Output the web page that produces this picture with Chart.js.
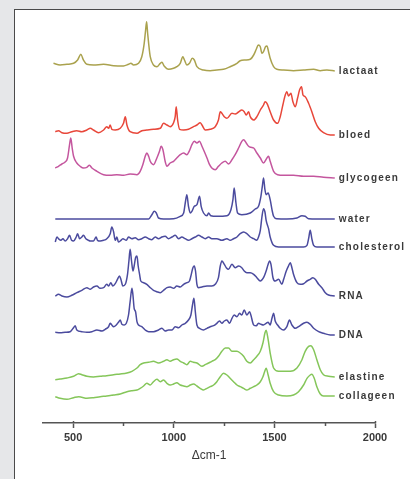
<!DOCTYPE html>
<html>
<head>
<meta charset="utf-8">
<script src="https://cdn.jsdelivr.net/npm/chart.js@4/dist/chart.umd.min.js"></script>
<style>
  html, body { margin: 0; padding: 0; background: #e6e7e9; width: 410px; height: 479px; overflow: hidden; }
  #panel { position: absolute; left: 14px; top: 9px; width: 420px; height: 480px; background: #ffffff;
           border-left: 1px solid #4a4a4a; border-top: 1px solid #4a4a4a; }
  #c { position: absolute; left: 0; top: 0; }
</style>
</head>
<body>
<div id="panel"></div>
<canvas id="c" width="410" height="479"></canvas>
<script>
// ---- series names (top to bottom) ----
const seriesNames = ["lactaat", "bloed", "glycogeen", "water", "cholesterol", "RNA", "DNA", "elastine", "collageen"];
// vertical stacking offsets of each spectrum (arbitrary intensity units)
const offsets = [352, 288, 245, 204, 176, 127, 88, 46, 27];
// x-axis tick labels
const majorTicks = [500, 1000, 1500, 2000];
const minorTicks = [750, 1250, 1750];

// ---- spectra: Raman shift (cm-1) and intensity ----
const lactaatX = [402,435,469,502,522,538,551,568,601,651,701,750,775,787,800,825,841,853,860,865,870,875,883,899,916,933,941,952,974,999,1015,1032,1045,1053,1065,1078,1092,1102,1115,1148,1181,1214,1247,1280,1314,1330,1355,1380,1397,1410,1420,1430,1438,1446,1456,1463,1471,1479,1496,1512,1546,1595,1645,1695,1728,1761,1800];
const lactaatY = [7.7,6,6.7,7.7,11,16.7,11,6.7,6,6.7,5.3,5,6.7,7.7,6,7.7,14.3,27.7,41,49.3,37.7,27.7,14.3,6,4.3,7.7,8.7,5,1.7,2.7,4.3,7.7,14.3,11,6,7.7,12.7,11,4.3,1,0.3,1,1.7,4.3,7.7,10.3,11,11.7,16,21.7,26,24.3,17.7,19.3,24.3,25,19.3,12.7,4.3,1.7,1,0.3,1,1.7,0.3,1,0];

const bloedX = [411,427,444,469,493,518,543,568,585,601,626,651,667,676,684,692,709,734,750,759,767,783,817,841,866,899,933,949,966,982,999,1007,1012,1019,1029,1049,1073,1098,1115,1131,1140,1156,1181,1206,1222,1231,1239,1251,1264,1289,1305,1322,1338,1350,1360,1372,1380,1397,1413,1430,1446,1454,1463,1476,1496,1516,1529,1542,1554,1562,1570,1582,1592,1604,1615,1625,1635,1642,1653,1670,1686,1703,1720,1744,1778,1800];
const bloedY = [3.3,4.3,2.3,1.7,3.3,4.3,3.3,5,6.7,5,2.3,5,8.3,6.7,10,5.7,5,6.7,11.7,18.3,10,3.3,1.7,4.3,5,5.7,6.7,11.7,10,8.3,12.3,18.3,28.3,15,5.7,5,5.7,8.3,10,12.3,10,5,5.7,8.3,15,23.3,21.7,18.3,16.7,21.7,21,23,25,23.3,20,23.3,18.3,15,18.3,25,30,33.3,31.7,25,15,11.7,18.3,30,40,43.3,39,41.7,33.3,28.3,36.7,45,48.3,40,38.3,31.7,23.3,13.3,6.7,2.3,0,0];

const glycogeenX = [411,427,444,460,472,482,488,495,502,518,535,551,568,581,593,618,651,684,717,750,783,817,833,846,858,866,875,883,899,916,929,937,946,957,966,982,999,1015,1032,1049,1065,1078,1090,1102,1115,1128,1140,1151,1165,1178,1189,1206,1222,1239,1256,1272,1289,1305,1322,1338,1347,1360,1372,1383,1397,1413,1430,1446,1463,1471,1479,1496,1516,1546,1595,1645,1695,1744,1800];
const glycogeenY = [10,11.7,14,16,20,33.3,40,30,21.7,15,11.7,10,10.7,12.7,10,6.7,3.3,2.7,3.3,2.7,4,3.3,6.7,13.3,21.7,25,21.7,16.7,13.3,20,26.7,31.7,28.3,16.7,11.7,15,16.7,20,23.3,25,23.3,27.3,33.3,36.7,35,36.7,31.7,26.7,20,13.3,10,8.3,11.7,15,16.7,14,18.3,23.3,30,36.7,38.3,35,31.7,30.7,30,25,20,15,20,21.7,16.7,6.7,3.3,2.7,2.7,1.7,1.7,0.7,0];

const waterX = [411,875,891,903,913,924,949,999,1032,1049,1057,1065,1073,1082,1090,1102,1115,1128,1136,1148,1165,1173,1184,1214,1264,1284,1294,1300,1309,1317,1338,1380,1405,1421,1433,1440,1446,1453,1459,1469,1479,1488,1496,1512,1562,1612,1637,1653,1670,1711,1800];
const waterY = [0,0,4.3,7.7,6,1,0,0.3,2.7,6,16,24.3,12.7,6,7.7,12.7,14.3,22.7,12.7,6,3.3,6,3.3,2.7,3.3,9.3,19.3,31,16,6,4.3,6,10,12.7,22.7,32.7,41,29.3,24.3,26,19.3,9.3,2.7,0.3,0,1,3.3,2.7,0.3,0,0];

const cholesterolX = [411,419,427,439,449,460,472,482,492,502,515,522,532,543,551,563,576,585,601,614,621,634,651,667,684,692,701,709,717,725,734,747,764,775,792,808,825,841,858,875,891,908,924,941,957,974,991,1007,1024,1040,1057,1073,1090,1107,1123,1140,1156,1173,1189,1214,1239,1264,1280,1297,1314,1330,1347,1363,1380,1397,1413,1421,1430,1438,1446,1453,1459,1471,1479,1496,1521,1562,1645,1662,1670,1678,1686,1695,1711,1800];
const cholesterolY = [5,10,8.3,6.7,8.3,6,8.3,11.7,6.7,6,10,13.3,8.3,10,11.7,8.3,6.7,6,6,10,6.7,6,6.7,8.3,13.3,20,15,6.7,10,5,6,8.3,6.7,10,8.3,9.3,7.3,8.3,10,8.3,7.3,10,8.3,10,10.7,8.3,10,11.7,8.3,10,8.3,6.7,8.3,10,11.7,10,8.3,10,8.3,8.3,6.7,8.3,6.7,8.3,10,13.3,15,13.3,10,8.3,6.7,10,16.7,30,38.3,35,26.7,18.3,10,1.7,0,0,0,1.7,8.3,16.7,8.3,1.7,0,0];

const rnaX = [411,427,444,469,493,518,543,568,585,601,618,634,651,667,676,687,697,709,720,730,737,747,759,770,777,783,790,797,803,810,817,823,830,836,850,866,883,899,916,933,949,966,982,999,1015,1032,1049,1065,1078,1085,1095,1102,1108,1115,1123,1140,1165,1189,1206,1222,1231,1239,1251,1261,1272,1289,1305,1322,1338,1350,1363,1380,1397,1413,1430,1446,1459,1469,1476,1483,1493,1504,1521,1537,1546,1559,1570,1579,1587,1595,1612,1628,1645,1662,1678,1691,1703,1720,1736,1753,1769,1800];
const rnaY = [0,1.7,0,-1,0.7,3.3,5.7,8.3,6.7,9,10,7.7,8.3,11.7,10,13.3,10,12.3,16.7,20,16.7,10,11.7,21.7,35,46.7,35,25,30,38.3,40,30,21.7,15,13.3,11.7,8.3,5.7,4.3,3.3,5.7,8.3,9,7.7,10,9,11.7,13.3,15,20,28.3,30,25,11.7,8.3,9,10,10,11.7,18.3,30,35,31.7,28.3,26.7,31.7,28.3,30,28.3,25,23.3,23.3,21.7,18.3,15,18.3,25,31.7,35,31.7,18.3,15,16.7,11.7,16.7,25,30,33.3,28.3,21.7,13.3,11.7,12.3,15,16.7,18.3,16.7,11.7,8.3,3.3,1,0];

const dnaX = [411,435,460,485,502,510,518,543,568,593,618,643,659,676,684,692,701,714,725,734,742,754,764,775,783,792,797,803,810,817,825,841,858,875,899,924,941,957,974,991,1007,1024,1040,1057,1073,1085,1093,1100,1107,1115,1128,1148,1165,1181,1198,1214,1227,1239,1251,1264,1277,1289,1300,1314,1327,1338,1350,1363,1377,1383,1397,1410,1421,1433,1446,1459,1469,1479,1488,1496,1504,1516,1529,1546,1562,1575,1587,1604,1620,1645,1662,1678,1695,1720,1744,1778,1800];
const dnaY = [2.7,2.3,2.7,3.3,7.3,9.3,5,3.3,2.7,3.3,5,4,5.7,8.3,11.7,10,8.3,10,12.7,15,10.7,10,11.7,20,33.3,46.7,40,26.7,23.3,13.3,10,8.3,5,3.3,3.3,5,6.7,4,5,5,8.3,7.3,10,11.7,15,20,30,36.7,23.3,10,6.7,5,6.7,8.3,9.3,11.7,14,11.7,14,15,11.7,16.7,20,18.3,21.7,20,25,20,23.3,20,10,9.3,11.7,10.7,10,11.7,12.7,10,16.7,21.7,14,10,6.7,5,8.3,15,10,6.7,8.3,11.7,12.7,10.7,6.7,3.3,1.7,0,0];

const elastineX = [411,435,469,502,527,543,568,601,634,667,701,734,767,792,817,833,850,875,899,924,949,966,982,999,1015,1032,1049,1065,1082,1098,1115,1140,1156,1173,1189,1206,1222,1239,1256,1272,1289,1314,1330,1347,1363,1380,1397,1413,1430,1443,1453,1459,1469,1479,1496,1521,1546,1579,1612,1637,1653,1670,1681,1695,1711,1728,1744,1769,1800];
const elastineY = [-2.7,-2,-1,0.7,3.3,2.3,0.7,0,0.7,1.3,2.3,3,4,5.7,9,12.3,14,14.7,15.7,14,15.7,17.3,15.7,17.3,18,15.7,14,12.3,15.7,14.7,14,10.7,12.3,14,15.7,17.3,20.7,25.7,29,29,25.7,25.7,24,20.7,15.7,14,17.3,20.7,25.7,34,44,46.7,37.3,24,9,5.7,5.7,5.7,9,17.3,25.7,30.7,31.3,27.3,17.3,7.3,2.3,0.7,0];

const collageenX = [411,435,469,502,527,543,568,601,634,667,701,734,767,792,817,833,850,866,883,899,916,933,949,966,982,999,1015,1032,1049,1065,1082,1098,1115,1131,1148,1165,1181,1198,1214,1231,1247,1264,1280,1297,1314,1330,1347,1363,1380,1397,1413,1430,1443,1453,1459,1469,1479,1496,1521,1562,1595,1620,1645,1662,1678,1686,1698,1711,1728,1744,1800];
const collageenY = [-0.7,-2.3,-3.3,-1.7,-0.7,-1.3,-2.3,-1.7,-0.7,0,1,2,4.3,5.3,6,7.7,10,12.7,11,14.3,16.7,14.3,16,12.7,11,12,13.3,11,10,9.3,11,12,10,7.7,6,7.7,9.3,11,14.3,19.3,22.7,21,17.7,14.3,11,9.3,7.7,6,7.7,9.3,11,14.3,19.3,25.3,27.7,21,12.7,4.3,1,0,1,4.3,11,17.7,21,21.7,17.7,9.3,2,0,0];

const seriesX = [lactaatX, bloedX, glycogeenX, waterX, cholesterolX, rnaX, dnaX, elastineX, collageenX];
const seriesY = [lactaatY, bloedY, glycogeenY, waterY, cholesterolY, rnaY, dnaY, elastineY, collageenY];
const colors = ["#aaa24e", "#e8473a", "#c4569e", "#4b4b9e", "#4b4b9e", "#4b4b9e", "#4b4b9e", "#85c65a", "#85c65a"];

const datasets = seriesNames.map((name, i) => ({
  label: name,
  data: seriesX[i].map((x, j) => ({ x: x, y: seriesY[i][j] + offsets[i] })),
  borderColor: colors[i],
  borderWidth: 1.5,
  pointRadius: 0,
  cubicInterpolationMode: 'monotone',
  fill: false
}));

const FONT = '"Liberation Sans", Arial, sans-serif';

const labelPlugin = {
  id: 'seriesLabels',
  afterDatasetsDraw(chart) {
    const ctx = chart.ctx;
    ctx.save();
    ctx.fillStyle = '#3a3a3a';
    ctx.font = 'bold 10px ' + FONT;
    ctx.letterSpacing = '1.2px';
    ctx.textBaseline = 'middle';
    ctx.textAlign = 'left';
    chart.data.datasets.forEach((ds, i) => {
      const meta = chart.getDatasetMeta(i);
      const last = meta.data[meta.data.length - 1];
      ctx.fillText(ds.label, last.x + 4, last.y);
    });
    ctx.restore();
  },
  afterDraw(chart) {
    const ctx = chart.ctx;
    const xs = chart.scales.x;
    const yb = xs.top;
    ctx.save();
    ctx.strokeStyle = '#555555';
    ctx.lineWidth = 1.5;
    minorTicks.forEach(v => {
      const px = Math.round(xs.getPixelForValue(v)) + 0.5;
      ctx.beginPath(); ctx.moveTo(px, yb - 1); ctx.lineTo(px, yb + 3); ctx.stroke();
    });
    majorTicks.forEach(v => {
      const px = Math.round(xs.getPixelForValue(v)) + 0.5;
      ctx.beginPath(); ctx.moveTo(px, yb - 2); ctx.lineTo(px, yb); ctx.stroke();
    });
    ctx.restore();
  }
};

new Chart(document.getElementById('c'), {
  type: 'line',
  data: { datasets: datasets },
  options: {
    responsive: false,
    animation: false,
    layout: { padding: { left: 43, right: 35, top: 15, bottom: 0 } },
    plugins: { legend: { display: false }, tooltip: { enabled: false } },
    scales: {
      x: {
        type: 'linear',
        min: 350,
        max: 2000,
        afterBuildTicks: (scale) => { scale.ticks = majorTicks.map(v => ({ value: v })); },
        afterFit: (scale) => { scale.height = 56; },
        border: { display: true, color: '#555555', width: 1.5 },
        grid: { display: true, drawOnChartArea: false, drawTicks: true, tickLength: 5, tickColor: '#555555', tickWidth: 1.5 },
        ticks: { padding: 3, maxRotation: 0, autoSkip: false, color: '#3a3a3a',
                 font: { family: FONT, size: 11, weight: 'bold' },
                 callback: (v) => String(v) },
        title: { display: true, text: 'Δcm-1', color: '#3a3a3a', font: { family: FONT, size: 12 }, padding: { top: 4, bottom: 16 } }
      },
      y: { display: false, min: 0, max: 408 }
    }
  },
  plugins: [labelPlugin]
});
</script>
</body>
</html>
